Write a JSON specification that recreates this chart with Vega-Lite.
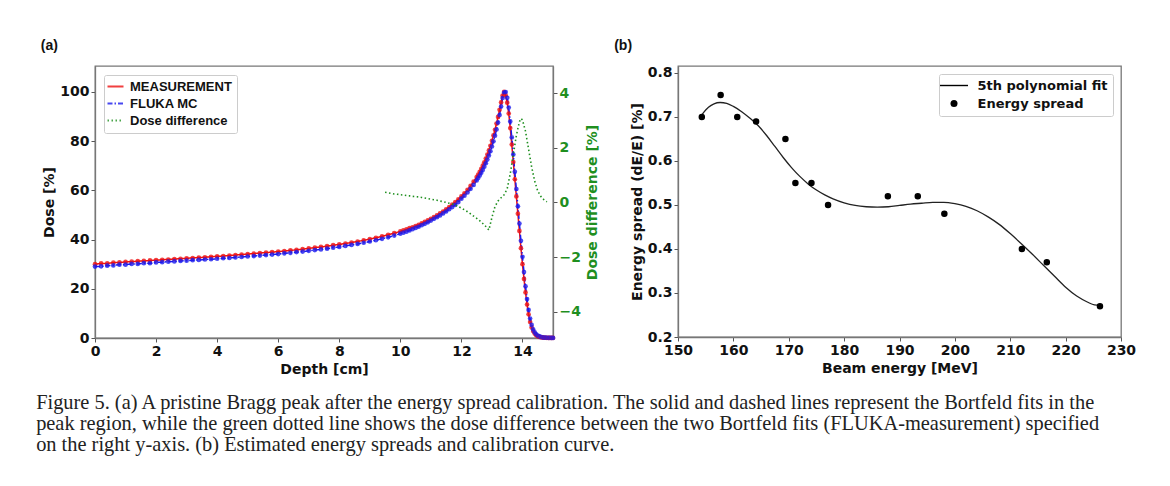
{
  "$schema": "https://vega.github.io/schema/vega-lite/v6.json",
  "background": "white",
  "padding": {"left": 36, "top": 38, "right": 5, "bottom": 5},
  "spacing": 12,
  "title": {
    "text": [
      "Figure 5. (a) A pristine Bragg peak after the energy spread calibration. The solid and dashed lines represent the Bortfeld fits in the",
      "peak region, while the green dotted line shows the dose difference between the two Bortfeld fits (FLUKA-measurement) specified",
      "on the right y-axis. (b) Estimated energy spreads and calibration curve."
    ],
    "orient": "bottom",
    "anchor": "start",
    "font": "Liberation Serif",
    "fontSize": 20.4,
    "fontWeight": "normal",
    "color": "#222222",
    "lineHeight": 21,
    "offset": 16,
    "dx": -4
  },
  "datasets": {
    "bragg": [
      {"d": 0.0, "MEASUREMENT": 30.0, "FLUKA MC": 29.0},
      {"d": 0.2, "MEASUREMENT": 30.3, "FLUKA MC": 29.1},
      {"d": 0.4, "MEASUREMENT": 30.3, "FLUKA MC": 29.4},
      {"d": 0.6, "MEASUREMENT": 30.6, "FLUKA MC": 29.5},
      {"d": 0.8, "MEASUREMENT": 30.7, "FLUKA MC": 29.8},
      {"d": 1.0, "MEASUREMENT": 30.9, "FLUKA MC": 29.8},
      {"d": 1.2, "MEASUREMENT": 31.0, "FLUKA MC": 30.1},
      {"d": 1.4, "MEASUREMENT": 31.2, "FLUKA MC": 30.1},
      {"d": 1.6, "MEASUREMENT": 31.3, "FLUKA MC": 30.4},
      {"d": 1.8, "MEASUREMENT": 31.5, "FLUKA MC": 30.4},
      {"d": 2.0, "MEASUREMENT": 31.6, "FLUKA MC": 30.7},
      {"d": 2.2, "MEASUREMENT": 31.8, "FLUKA MC": 30.8},
      {"d": 2.4, "MEASUREMENT": 31.9, "FLUKA MC": 31.0},
      {"d": 2.6, "MEASUREMENT": 32.1, "FLUKA MC": 31.1},
      {"d": 2.8, "MEASUREMENT": 32.2, "FLUKA MC": 31.3},
      {"d": 3.0, "MEASUREMENT": 32.4, "FLUKA MC": 31.4},
      {"d": 3.2, "MEASUREMENT": 32.5, "FLUKA MC": 31.6},
      {"d": 3.4, "MEASUREMENT": 32.7, "FLUKA MC": 31.7},
      {"d": 3.6, "MEASUREMENT": 32.8, "FLUKA MC": 31.9},
      {"d": 3.8, "MEASUREMENT": 33.0, "FLUKA MC": 32.0},
      {"d": 4.0, "MEASUREMENT": 33.2, "FLUKA MC": 32.2},
      {"d": 4.2, "MEASUREMENT": 33.3, "FLUKA MC": 32.4},
      {"d": 4.4, "MEASUREMENT": 33.5, "FLUKA MC": 32.5},
      {"d": 4.6, "MEASUREMENT": 33.7, "FLUKA MC": 32.7},
      {"d": 4.8, "MEASUREMENT": 33.9, "FLUKA MC": 32.9},
      {"d": 5.0, "MEASUREMENT": 34.1, "FLUKA MC": 33.1},
      {"d": 5.2, "MEASUREMENT": 34.3, "FLUKA MC": 33.3},
      {"d": 5.4, "MEASUREMENT": 34.5, "FLUKA MC": 33.5},
      {"d": 5.6, "MEASUREMENT": 34.7, "FLUKA MC": 33.7},
      {"d": 5.8, "MEASUREMENT": 34.9, "FLUKA MC": 33.9},
      {"d": 6.0, "MEASUREMENT": 35.1, "FLUKA MC": 34.1},
      {"d": 6.2, "MEASUREMENT": 35.3, "FLUKA MC": 34.4},
      {"d": 6.4, "MEASUREMENT": 35.6, "FLUKA MC": 34.6},
      {"d": 6.6, "MEASUREMENT": 35.8, "FLUKA MC": 34.9},
      {"d": 6.8, "MEASUREMENT": 36.1, "FLUKA MC": 35.1},
      {"d": 7.0, "MEASUREMENT": 36.4, "FLUKA MC": 35.4},
      {"d": 7.2, "MEASUREMENT": 36.7, "FLUKA MC": 35.7},
      {"d": 7.4, "MEASUREMENT": 37.0, "FLUKA MC": 36.0},
      {"d": 7.6, "MEASUREMENT": 37.3, "FLUKA MC": 36.3},
      {"d": 7.8, "MEASUREMENT": 37.7, "FLUKA MC": 36.7},
      {"d": 8.0, "MEASUREMENT": 38.0, "FLUKA MC": 37.0},
      {"d": 8.2, "MEASUREMENT": 38.4, "FLUKA MC": 37.4},
      {"d": 8.4, "MEASUREMENT": 38.8, "FLUKA MC": 37.8},
      {"d": 8.6, "MEASUREMENT": 39.2, "FLUKA MC": 38.2},
      {"d": 8.8, "MEASUREMENT": 39.7, "FLUKA MC": 38.7},
      {"d": 9.0, "MEASUREMENT": 40.2, "FLUKA MC": 39.2},
      {"d": 9.2, "MEASUREMENT": 40.7, "FLUKA MC": 39.7},
      {"d": 9.4, "MEASUREMENT": 41.3, "FLUKA MC": 40.3},
      {"d": 9.6, "MEASUREMENT": 41.9, "FLUKA MC": 40.9},
      {"d": 9.8, "MEASUREMENT": 42.6, "FLUKA MC": 41.6},
      {"d": 10.0, "MEASUREMENT": 43.3, "FLUKA MC": 42.4},
      {"d": 10.1, "MEASUREMENT": 43.7, "FLUKA MC": 42.8},
      {"d": 10.2, "MEASUREMENT": 44.1, "FLUKA MC": 43.2},
      {"d": 10.3, "MEASUREMENT": 44.6, "FLUKA MC": 43.7},
      {"d": 10.4, "MEASUREMENT": 45.0, "FLUKA MC": 44.2},
      {"d": 10.5, "MEASUREMENT": 45.5, "FLUKA MC": 44.7},
      {"d": 10.6, "MEASUREMENT": 46.0, "FLUKA MC": 45.2},
      {"d": 10.7, "MEASUREMENT": 46.6, "FLUKA MC": 45.8},
      {"d": 10.8, "MEASUREMENT": 47.2, "FLUKA MC": 46.4},
      {"d": 10.9, "MEASUREMENT": 47.8, "FLUKA MC": 47.0},
      {"d": 11.0, "MEASUREMENT": 48.4, "FLUKA MC": 47.7},
      {"d": 11.1, "MEASUREMENT": 49.1, "FLUKA MC": 48.4},
      {"d": 11.2, "MEASUREMENT": 49.8, "FLUKA MC": 49.1},
      {"d": 11.3, "MEASUREMENT": 50.6, "FLUKA MC": 49.8},
      {"d": 11.4, "MEASUREMENT": 51.4, "FLUKA MC": 50.6},
      {"d": 11.5, "MEASUREMENT": 52.3, "FLUKA MC": 51.4},
      {"d": 11.6, "MEASUREMENT": 53.2, "FLUKA MC": 52.3},
      {"d": 11.7, "MEASUREMENT": 54.2, "FLUKA MC": 53.2},
      {"d": 11.8, "MEASUREMENT": 55.2, "FLUKA MC": 54.1},
      {"d": 11.9, "MEASUREMENT": 56.3, "FLUKA MC": 55.2},
      {"d": 12.0, "MEASUREMENT": 57.5, "FLUKA MC": 56.6},
      {"d": 12.1, "MEASUREMENT": 58.8, "FLUKA MC": 57.8},
      {"d": 12.2, "MEASUREMENT": 60.2, "FLUKA MC": 59.1},
      {"d": 12.3, "MEASUREMENT": 61.8, "FLUKA MC": 60.6},
      {"d": 12.4, "MEASUREMENT": 63.5, "FLUKA MC": 62.2},
      {"d": 12.5, "MEASUREMENT": 65.4, "FLUKA MC": 64.0},
      {"d": 12.55, "MEASUREMENT": 66.4, "FLUKA MC": 65.0},
      {"d": 12.6, "MEASUREMENT": 67.5, "FLUKA MC": 66.0},
      {"d": 12.65, "MEASUREMENT": 68.7, "FLUKA MC": 67.1},
      {"d": 12.7, "MEASUREMENT": 70.0, "FLUKA MC": 68.3},
      {"d": 12.75, "MEASUREMENT": 71.4, "FLUKA MC": 69.6},
      {"d": 12.8, "MEASUREMENT": 72.9, "FLUKA MC": 71.0},
      {"d": 12.85, "MEASUREMENT": 74.5, "FLUKA MC": 72.5},
      {"d": 12.9, "MEASUREMENT": 76.2, "FLUKA MC": 74.1},
      {"d": 12.95, "MEASUREMENT": 78.1, "FLUKA MC": 75.9},
      {"d": 13.0, "MEASUREMENT": 80.1, "FLUKA MC": 77.8},
      {"d": 13.05, "MEASUREMENT": 82.3, "FLUKA MC": 79.9},
      {"d": 13.1, "MEASUREMENT": 84.6, "FLUKA MC": 82.2},
      {"d": 13.15, "MEASUREMENT": 87.1, "FLUKA MC": 84.7},
      {"d": 13.2, "MEASUREMENT": 89.8, "FLUKA MC": 87.5},
      {"d": 13.25, "MEASUREMENT": 92.7, "FLUKA MC": 90.6},
      {"d": 13.3, "MEASUREMENT": 95.7, "FLUKA MC": 94.0},
      {"d": 13.35, "MEASUREMENT": 98.5, "FLUKA MC": 97.5},
      {"d": 13.4, "MEASUREMENT": 100.0, "FLUKA MC": 99.7},
      {"d": 13.45, "MEASUREMENT": 98.6, "FLUKA MC": 99.9},
      {"d": 13.5, "MEASUREMENT": 95.6, "FLUKA MC": 97.6},
      {"d": 13.55, "MEASUREMENT": 91.2, "FLUKA MC": 93.6},
      {"d": 13.6, "MEASUREMENT": 85.3, "FLUKA MC": 88.0},
      {"d": 13.65, "MEASUREMENT": 78.6, "FLUKA MC": 81.5},
      {"d": 13.7, "MEASUREMENT": 71.5, "FLUKA MC": 74.5},
      {"d": 13.75, "MEASUREMENT": 64.5, "FLUKA MC": 67.5},
      {"d": 13.8, "MEASUREMENT": 57.5, "FLUKA MC": 60.5},
      {"d": 13.85, "MEASUREMENT": 50.5, "FLUKA MC": 53.5},
      {"d": 13.9, "MEASUREMENT": 43.5, "FLUKA MC": 46.5},
      {"d": 13.95, "MEASUREMENT": 36.5, "FLUKA MC": 39.5},
      {"d": 14.0, "MEASUREMENT": 30.0, "FLUKA MC": 33.0},
      {"d": 14.05, "MEASUREMENT": 24.0, "FLUKA MC": 26.8},
      {"d": 14.1, "MEASUREMENT": 18.5, "FLUKA MC": 21.0},
      {"d": 14.15, "MEASUREMENT": 13.6, "FLUKA MC": 15.8},
      {"d": 14.2, "MEASUREMENT": 9.6, "FLUKA MC": 11.4},
      {"d": 14.25, "MEASUREMENT": 6.5, "FLUKA MC": 7.9},
      {"d": 14.3, "MEASUREMENT": 4.3, "FLUKA MC": 5.3},
      {"d": 14.35, "MEASUREMENT": 2.8, "FLUKA MC": 3.5},
      {"d": 14.4, "MEASUREMENT": 1.8, "FLUKA MC": 2.3},
      {"d": 14.45, "MEASUREMENT": 1.1, "FLUKA MC": 1.5},
      {"d": 14.5, "MEASUREMENT": 0.7, "FLUKA MC": 1.0},
      {"d": 14.55, "MEASUREMENT": 0.45, "FLUKA MC": 0.65},
      {"d": 14.6, "MEASUREMENT": 0.3, "FLUKA MC": 0.42},
      {"d": 14.65, "MEASUREMENT": 0.2, "FLUKA MC": 0.28},
      {"d": 14.7, "MEASUREMENT": 0.14, "FLUKA MC": 0.19},
      {"d": 14.75, "MEASUREMENT": 0.1, "FLUKA MC": 0.13},
      {"d": 14.8, "MEASUREMENT": 0.08, "FLUKA MC": 0.1},
      {"d": 14.85, "MEASUREMENT": 0.06, "FLUKA MC": 0.08},
      {"d": 14.9, "MEASUREMENT": 0.05, "FLUKA MC": 0.06},
      {"d": 14.95, "MEASUREMENT": 0.04, "FLUKA MC": 0.05},
      {"d": 15.0, "MEASUREMENT": 0.03, "FLUKA MC": 0.04}
    ],
    "diff": [
      {"d": 9.5, "Dose difference": 0.37},
      {"d": 9.6, "Dose difference": 0.35},
      {"d": 9.7, "Dose difference": 0.33},
      {"d": 9.8, "Dose difference": 0.31},
      {"d": 9.9, "Dose difference": 0.30},
      {"d": 10.0, "Dose difference": 0.28},
      {"d": 10.1, "Dose difference": 0.27},
      {"d": 10.2, "Dose difference": 0.25},
      {"d": 10.3, "Dose difference": 0.24},
      {"d": 10.4, "Dose difference": 0.22},
      {"d": 10.5, "Dose difference": 0.21},
      {"d": 10.6, "Dose difference": 0.20},
      {"d": 10.7, "Dose difference": 0.18},
      {"d": 10.8, "Dose difference": 0.16},
      {"d": 10.9, "Dose difference": 0.14},
      {"d": 11.0, "Dose difference": 0.12},
      {"d": 11.1, "Dose difference": 0.10},
      {"d": 11.2, "Dose difference": 0.08},
      {"d": 11.3, "Dose difference": 0.05},
      {"d": 11.4, "Dose difference": 0.03},
      {"d": 11.5, "Dose difference": 0.00},
      {"d": 11.6, "Dose difference": -0.03},
      {"d": 11.7, "Dose difference": -0.06},
      {"d": 11.8, "Dose difference": -0.10},
      {"d": 11.9, "Dose difference": -0.15},
      {"d": 12.0, "Dose difference": -0.21},
      {"d": 12.1, "Dose difference": -0.27},
      {"d": 12.2, "Dose difference": -0.34},
      {"d": 12.3, "Dose difference": -0.42},
      {"d": 12.4, "Dose difference": -0.50},
      {"d": 12.5, "Dose difference": -0.58},
      {"d": 12.6, "Dose difference": -0.67},
      {"d": 12.7, "Dose difference": -0.77},
      {"d": 12.8, "Dose difference": -0.88},
      {"d": 12.9, "Dose difference": -1.01},
      {"d": 13.0, "Dose difference": -0.55},
      {"d": 13.1, "Dose difference": -0.15},
      {"d": 13.2, "Dose difference": 0.05},
      {"d": 13.3, "Dose difference": 0.17},
      {"d": 13.4, "Dose difference": 0.28},
      {"d": 13.5, "Dose difference": 0.50},
      {"d": 13.6, "Dose difference": 1.05},
      {"d": 13.7, "Dose difference": 1.75},
      {"d": 13.8, "Dose difference": 2.45},
      {"d": 13.9, "Dose difference": 2.95},
      {"d": 13.95, "Dose difference": 3.07},
      {"d": 14.0, "Dose difference": 3.02},
      {"d": 14.1, "Dose difference": 2.60},
      {"d": 14.2, "Dose difference": 1.95},
      {"d": 14.3, "Dose difference": 1.30},
      {"d": 14.4, "Dose difference": 0.78},
      {"d": 14.5, "Dose difference": 0.42},
      {"d": 14.6, "Dose difference": 0.22},
      {"d": 14.7, "Dose difference": 0.10},
      {"d": 14.8, "Dose difference": 0.02}
    ],
    "fit": [
      {"E": 154.3, "spread": 0.705},
      {"E": 155.5, "spread": 0.722},
      {"E": 156.5, "spread": 0.730},
      {"E": 157.6, "spread": 0.733},
      {"E": 158.8, "spread": 0.731},
      {"E": 160.0, "spread": 0.724},
      {"E": 161.5, "spread": 0.712},
      {"E": 163.0, "spread": 0.697},
      {"E": 164.5, "spread": 0.680},
      {"E": 166.0, "spread": 0.658},
      {"E": 167.5, "spread": 0.633},
      {"E": 169.0, "spread": 0.608},
      {"E": 170.5, "spread": 0.585},
      {"E": 172.0, "spread": 0.565},
      {"E": 173.5, "spread": 0.548},
      {"E": 175.0, "spread": 0.534},
      {"E": 176.5, "spread": 0.523},
      {"E": 178.0, "spread": 0.514},
      {"E": 180.0, "spread": 0.505},
      {"E": 182.0, "spread": 0.499},
      {"E": 184.0, "spread": 0.496},
      {"E": 186.0, "spread": 0.495},
      {"E": 188.0, "spread": 0.496},
      {"E": 190.0, "spread": 0.499},
      {"E": 192.0, "spread": 0.502},
      {"E": 194.0, "spread": 0.504},
      {"E": 196.0, "spread": 0.506},
      {"E": 198.0, "spread": 0.506},
      {"E": 200.0, "spread": 0.503},
      {"E": 202.0, "spread": 0.497},
      {"E": 204.0, "spread": 0.487},
      {"E": 206.0, "spread": 0.473},
      {"E": 208.0, "spread": 0.456},
      {"E": 210.0, "spread": 0.435},
      {"E": 212.0, "spread": 0.412},
      {"E": 214.0, "spread": 0.388},
      {"E": 216.0, "spread": 0.363},
      {"E": 218.0, "spread": 0.338},
      {"E": 220.0, "spread": 0.313},
      {"E": 222.0, "spread": 0.293},
      {"E": 224.0, "spread": 0.279},
      {"E": 225.2, "spread": 0.273},
      {"E": 226.3, "spread": 0.272}
    ],
    "points": [
      {"E": 154.3, "spread": 0.70, "series": "Energy spread"},
      {"E": 157.7, "spread": 0.75, "series": "Energy spread"},
      {"E": 160.7, "spread": 0.70, "series": "Energy spread"},
      {"E": 164.1, "spread": 0.69, "series": "Energy spread"},
      {"E": 169.4, "spread": 0.65, "series": "Energy spread"},
      {"E": 171.2, "spread": 0.55, "series": "Energy spread"},
      {"E": 174.1, "spread": 0.55, "series": "Energy spread"},
      {"E": 177.1, "spread": 0.50, "series": "Energy spread"},
      {"E": 187.9, "spread": 0.52, "series": "Energy spread"},
      {"E": 193.3, "spread": 0.52, "series": "Energy spread"},
      {"E": 198.1, "spread": 0.48, "series": "Energy spread"},
      {"E": 212.1, "spread": 0.40, "series": "Energy spread"},
      {"E": 216.6, "spread": 0.37, "series": "Energy spread"},
      {"E": 226.2, "spread": 0.27, "series": "Energy spread"}
    ]
  },
  "hconcat": [
    {
      "width": 458,
      "height": 272,
      "title": {"text": "(a)", "anchor": "start", "frame": "bounds", "offset": 13, "dx": -2, "font": "Liberation Sans", "fontSize": 14, "fontWeight": "bold", "color": "#111111"},
      "layer": [
        {
          "data": {"name": "bragg"},
          "transform": [{"fold": ["MEASUREMENT", "FLUKA MC"], "as": ["series", "dose"]}],
          "encoding": {
            "x": {"field": "d", "type": "quantitative", "scale": {"domain": [0, 15], "nice": false, "zero": false}, "axis": {"title": "Depth [cm]", "values": [0, 2, 4, 6, 8, 10, 12, 14]}},
            "y": {"field": "dose", "type": "quantitative", "scale": {"domain": [0, 110.5], "nice": false}, "axis": {"title": "Dose [%]", "values": [0, 20, 40, 60, 80, 100], "titlePadding": 3}},
            "color": {
              "field": "series", "type": "nominal",
              "scale": {"domain": ["MEASUREMENT", "FLUKA MC", "Dose difference"], "range": ["#ee1111", "#1a1aee", "#1f8f1f"]},
              "legend": {"title": null, "orient": "top-left", "offset": 9, "padding": 5, "strokeColor": "#cccccc", "fillColor": "white", "cornerRadius": 2, "labelFont": "Liberation Sans", "labelFontWeight": "bold", "labelFontSize": 13, "labelColor": "#111111", "rowPadding": 3, "symbolType": "M-1,0H7", "symbolSize": 16, "symbolStrokeWidth": 1.8, "symbolOffset": -6, "labelOffset": 14}
            }
          },
          "layer": [
            {
              "mark": {"type": "line", "strokeWidth": 1.5},
              "encoding": {
                "strokeDash": {
                  "field": "series", "type": "nominal",
                  "scale": {"domain": ["MEASUREMENT", "FLUKA MC", "Dose difference"], "range": [[1, 0], [5, 2, 1.5, 2], [1.5, 2.5]]},
                  "legend": {"title": null, "orient": "top-left", "offset": 9, "padding": 5, "strokeColor": "#cccccc", "fillColor": "white", "cornerRadius": 2, "labelFont": "Liberation Sans", "labelFontWeight": "bold", "labelFontSize": 13, "labelColor": "#111111", "rowPadding": 3, "symbolType": "M-1,0H7", "symbolSize": 16, "symbolStrokeWidth": 1.8, "symbolOffset": -6, "labelOffset": 14}
                }
              }
            },
            {"mark": {"type": "circle", "size": 22, "opacity": 0.8}}
          ]
        },
        {
          "data": {"name": "diff"},
          "transform": [{"fold": ["Dose difference"], "as": ["series", "diff"]}],
          "mark": {"type": "line", "strokeWidth": 1.6},
          "encoding": {
            "x": {"field": "d", "type": "quantitative"},
            "y": {"field": "diff", "type": "quantitative", "scale": {"domain": [-4.96, 4.99], "nice": false, "zero": false}, "axis": {"orient": "right", "title": "Dose difference [%]", "values": [-4, -2, 0, 2, 4], "titleColor": "#1f8f1f", "labelColor": "#1f8f1f", "titleAngle": 270, "titleBaseline": "top", "titlePadding": 5}},
            "color": {"field": "series", "type": "nominal", "scale": {"domain": ["MEASUREMENT", "FLUKA MC", "Dose difference"], "range": ["#ee1111", "#1a1aee", "#1f8f1f"]}},
            "strokeDash": {"field": "series", "type": "nominal", "scale": {"domain": ["MEASUREMENT", "FLUKA MC", "Dose difference"], "range": [[1, 0], [5, 2, 1.5, 2], [1.5, 2.5]]}}
          }
        }
      ],
      "resolve": {"scale": {"y": "independent"}}
    },
    {
      "width": 443,
      "height": 271,
      "title": {"text": "(b)", "anchor": "start", "frame": "bounds", "offset": 13, "dx": -16, "font": "Liberation Sans", "fontSize": 14, "fontWeight": "bold", "color": "#111111"},
      "layer": [
        {
          "data": {"name": "fit"},
          "mark": {"type": "line", "strokeWidth": 1.3, "color": "#222222", "interpolate": "monotone"},
          "encoding": {
            "x": {"field": "E", "type": "quantitative", "scale": {"domain": [150, 230], "nice": false, "zero": false}, "axis": {"title": "Beam energy [MeV]", "values": [150, 160, 170, 180, 190, 200, 210, 220, 230]}},
            "y": {"field": "spread", "type": "quantitative", "scale": {"domain": [0.2, 0.8159], "nice": false, "zero": false}, "axis": {"title": "Energy spread (dE/E) [%]", "values": [0.2, 0.3, 0.4, 0.5, 0.6, 0.7, 0.8], "format": ".1f", "titlePadding": 3}}
          }
        },
        {
          "data": {"name": "points"},
          "mark": {"type": "point", "filled": true, "size": 26, "color": "#000000", "stroke": "#000000", "strokeWidth": 1.4, "opacity": 1},
          "encoding": {
            "x": {"field": "E", "type": "quantitative"},
            "y": {"field": "spread", "type": "quantitative"},
            "shape": {
              "field": "series", "type": "nominal",
              "scale": {"domain": ["5th polynomial fit", "Energy spread"], "range": ["M-4,-0.2H4V0.2H-4Z", "circle"]},
              "legend": {
                "title": null, "orient": "top-right", "offset": 8, "padding": 5, "strokeColor": "#cccccc", "fillColor": "white", "cornerRadius": 2,
                "labelFont": "DejaVu Sans", "labelFontWeight": "bold", "labelFontSize": 13, "labelColor": "#111111", "rowPadding": 4,
                "symbolSize": 49, "symbolOffset": 3.5, "labelOffset": 17,
                "symbolFillColor": "#111111", "symbolStrokeColor": "#111111", "symbolStrokeWidth": 0.6,
                "encode": {"symbols": {"update": {"fill": {"value": "#111111"}, "stroke": {"value": "#111111"}, "strokeWidth": {"value": 0.6}}}}
              }
            }
          }
        }
      ]
    }
  ],
  "resolve": {"scale": {"color": "independent", "strokeDash": "independent", "shape": "independent"}},
  "config": {
    "font": "DejaVu Sans",
    "view": {"stroke": "#777777", "strokeWidth": 1.3},
    "axis": {
      "labelFont": "DejaVu Sans", "labelFontWeight": "bold", "labelFontSize": 14, "labelColor": "#111111",
      "titleFont": "DejaVu Sans", "titleFontWeight": "bold", "titleFontSize": 14, "titleColor": "#111111",
      "grid": false, "domainColor": "#777777", "domainWidth": 1.3, "tickColor": "#555555", "tickSize": 4,
      "labelPadding": 2, "labelFlush": false, "labelOverlap": false
    }
  }
}
